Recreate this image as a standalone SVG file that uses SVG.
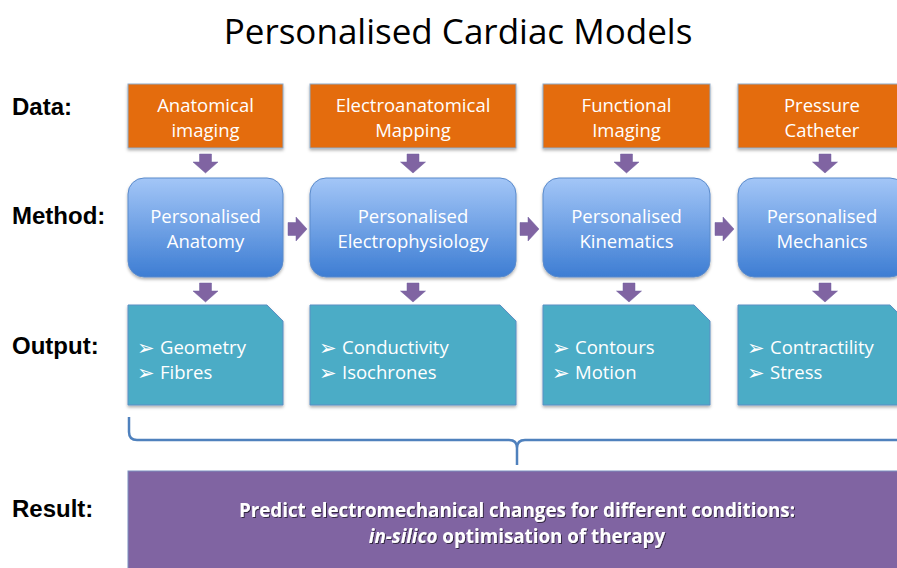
<svg xmlns="http://www.w3.org/2000/svg" width="897" height="568" viewBox="0 0 897 568">
<defs>
<linearGradient id="gm" x1="0" y1="0" x2="0" y2="1">
<stop offset="0" stop-color="#A3C6F7"/>
<stop offset="1" stop-color="#3D7DD3"/>
</linearGradient>
<filter id="sh" x="-10%" y="-10%" width="130%" height="130%">
<feDropShadow dx="0" dy="2" stdDeviation="1.5" flood-color="#000" flood-opacity="0.3"/>
</filter>
<filter id="ts" x="-5%" y="-20%" width="110%" height="150%">
<feDropShadow dx="1" dy="1" stdDeviation="0.6" flood-color="#000" flood-opacity="0.6"/>
</filter>
<path id="ad" d="M-6,0 h12 v8 h6.5 l-12.5,11 l-12.5,-11 h6.5 z"/>
<path id="ar" d="M0,-6.5 v13 h8 v5.5 l11,-12 l-11,-12 v5.5 z"/>
</defs>
<style>
.lab{font-family:"Liberation Sans",Arial,sans-serif;font-weight:bold;font-size:24px;fill:#000}
.t{font-family:"Open Sans","Liberation Sans",sans-serif;font-size:18.5px;fill:#fff;text-anchor:middle}
.b{font-family:"Open Sans","Liberation Sans",sans-serif;font-size:18.5px;fill:#fff}
.bu{font-family:"DejaVu Sans",sans-serif;font-size:21px;fill:#fff}
.data{fill:#E46C0A;stroke:#8EA9C8;stroke-width:1;filter:url(#sh)}
.meth{fill:url(#gm);stroke:#5A8ACB;stroke-width:1;filter:url(#sh)}
.out{fill:#4BACC6;stroke:#5B8FC4;stroke-width:1;filter:url(#sh)}
.arr{fill:#8064A2;stroke:#7060A0;stroke-width:0.5}
</style>
<rect width="897" height="568" fill="#fff"/>
<text x="458" y="44" font-family="Open Sans,Liberation Sans,sans-serif" font-size="35" text-anchor="middle" fill="#000">Personalised Cardiac Models</text>
<g id="labels">
<text class="lab" x="12" y="115">Data:</text>
<text class="lab" x="12" y="224">Method:</text>
<text class="lab" x="12" y="354">Output:</text>
<text class="lab" x="12" y="517">Result:</text>
</g>
<g id="data1"><rect class="data" x="128" y="84" width="155" height="64"/><text class="t" x="205.5" y="112">Anatomical</text><text class="t" x="205.5" y="137">imaging</text></g>
<g id="data2"><rect class="data" x="310" y="84" width="206" height="64"/><text class="t" x="413" y="112">Electroanatomical</text><text class="t" x="413" y="137">Mapping</text></g>
<g id="data3"><rect class="data" x="543" y="84" width="167" height="64"/><text class="t" x="626.5" y="112">Functional</text><text class="t" x="626.5" y="137">Imaging</text></g>
<g id="data4"><rect class="data" x="738" y="84" width="168" height="64"/><text class="t" x="822" y="112">Pressure</text><text class="t" x="822" y="137">Catheter</text></g>
<g id="meth1"><rect class="meth" x="128" y="178" width="155" height="99" rx="16"/><text class="t" x="205.5" y="223">Personalised</text><text class="t" x="205.5" y="248">Anatomy</text></g>
<g id="meth2"><rect class="meth" x="310" y="178" width="206" height="99" rx="16"/><text class="t" x="413" y="223">Personalised</text><text class="t" x="413" y="248">Electrophysiology</text></g>
<g id="meth3"><rect class="meth" x="543" y="178" width="167" height="99" rx="16"/><text class="t" x="626.5" y="223">Personalised</text><text class="t" x="626.5" y="248">Kinematics</text></g>
<g id="meth4"><rect class="meth" x="738" y="178" width="168" height="99" rx="16"/><text class="t" x="822" y="223">Personalised</text><text class="t" x="822" y="248">Mechanics</text></g>
<g id="out1"><path class="out" d="M128,305 H267 L283,321 V405 H128 Z"/><text class="bu" x="137" y="355">➢</text><text class="b" x="160" y="354">Geometry</text><text class="bu" x="137" y="380">➢</text><text class="b" x="160" y="379">Fibres</text></g>
<g id="out2"><path class="out" d="M310,305 H500 L516,321 V405 H310 Z"/><text class="bu" x="319" y="355">➢</text><text class="b" x="342" y="354">Conductivity</text><text class="bu" x="319" y="380">➢</text><text class="b" x="342" y="379">Isochrones</text></g>
<g id="out3"><path class="out" d="M543,305 H694 L710,321 V405 H543 Z"/><text class="bu" x="552" y="355">➢</text><text class="b" x="575" y="354">Contours</text><text class="bu" x="552" y="380">➢</text><text class="b" x="575" y="379">Motion</text></g>
<g id="out4"><path class="out" d="M738,305 H890 L906,321 V405 H738 Z"/><text class="bu" x="747" y="355">➢</text><text class="b" x="770" y="354">Contractility</text><text class="bu" x="747" y="380">➢</text><text class="b" x="770" y="379">Stress</text></g>
<g id="result"><rect x="128" y="471" width="780" height="110" fill="#8064A2" stroke="#7A8FC0" stroke-width="1"/>
<g filter="url(#ts)" font-family="Open Sans,Liberation Sans,sans-serif" font-size="18.8" font-weight="bold" fill="#fff" text-anchor="middle">
<text x="517" y="517">Predict electromechanical changes for different conditions:</text>
<text x="517" y="543"><tspan font-style="italic">in-silico</tspan> optimisation of therapy</text>
</g></g>
<g id="connectors">
<use href="#ad" class="arr" x="205.5" y="154"/>
<use href="#ad" class="arr" x="413" y="154"/>
<use href="#ad" class="arr" x="626.5" y="154"/>
<use href="#ad" class="arr" x="825" y="154"/>
<use href="#ar" class="arr" x="288" y="229"/>
<use href="#ar" class="arr" x="520" y="229"/>
<use href="#ar" class="arr" x="715" y="229"/>
<use href="#ad" class="arr" x="205.5" y="283"/>
<use href="#ad" class="arr" x="413" y="283"/>
<use href="#ad" class="arr" x="629" y="283"/>
<use href="#ad" class="arr" x="825" y="283"/>
<path d="M129,417 V432 Q129,440 137,440 H509 Q517,440 517,448 V465 V448 Q517,440 525,440 H900" fill="none" stroke="#4F81BD" stroke-width="2.5"/>
</g>
</svg>
